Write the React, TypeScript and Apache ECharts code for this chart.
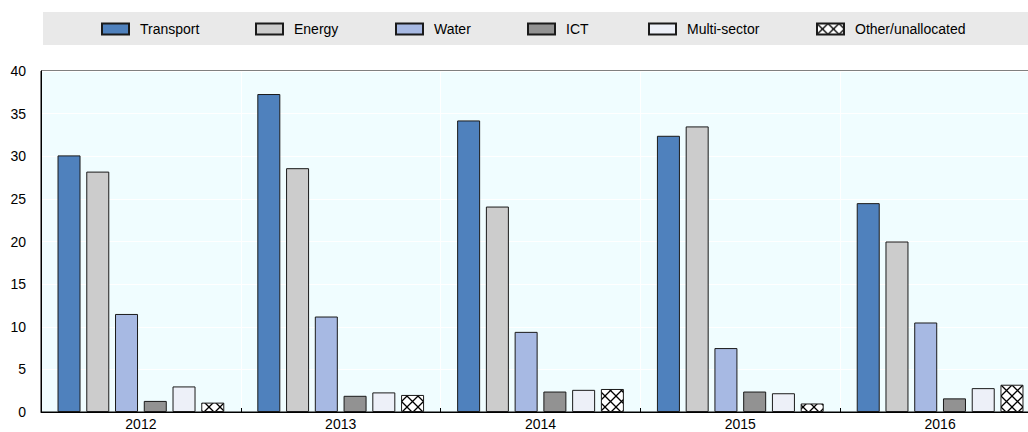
import React, { useEffect, useRef } from "react";
import * as echarts from "echarts";

const years = ["2012", "2013", "2014", "2015", "2016"];
const seriesNames = ["Transport", "Energy", "Water", "ICT", "Multi-sector", "Other/unallocated"];
const transport = [30.1, 37.3, 34.2, 32.4, 24.5];
const energy = [28.2, 28.6, 24.1, 33.5, 20.0];
const water = [11.5, 11.2, 9.4, 7.5, 10.5];
const ict = [1.3, 1.9, 2.4, 2.4, 1.6];
const multiSector = [3.0, 2.3, 2.6, 2.2, 2.8];
const other = [1.1, 2.0, 2.7, 1.0, 3.2];
const yTicks = { min: 0, max: 40, interval: 5 };

const FONT = "'Liberation Sans', Arial, sans-serif";

function hatchImage(): string {
  const s = 11;
  const c = document.createElement("canvas");
  c.width = s;
  c.height = s;
  const ctx = c.getContext("2d")!;
  ctx.fillStyle = "#ffffff";
  ctx.fillRect(0, 0, s, s);
  ctx.strokeStyle = "#000000";
  ctx.lineWidth = 1.3;
  ctx.beginPath();
  ctx.moveTo(0, 0);
  ctx.lineTo(s, s);
  ctx.moveTo(s, 0);
  ctx.lineTo(0, s);
  ctx.stroke();
  return c.toDataURL();
}

export default function App() {
  const ref = useRef<HTMLDivElement>(null);
  useEffect(() => {
    if (!ref.current) return;
    const chart = echarts.init(ref.current, null, { renderer: "svg" });
    const hatch = { image: hatchImage(), repeat: "repeat" };
    const colors: any[] = ["#4F81BD", "#CCCCCC", "#A7B9E3", "#929292", "#EDF0F8", hatch];
    const values = [transport, energy, water, ict, multiSector, other];
    const legendLefts = [101, 255, 395, 527, 648, 816];
    chart.setOption({
      animation: false,
      graphic: [
        {
          type: "rect",
          z: -10,
          shape: { x: 43, y: 12, width: 1000, height: 33 },
          style: { fill: "#E9E9E9" },
          silent: true,
        },
      ],
      legend: seriesNames.map((n, i) => ({
        data: [n],
        left: legendLefts[i],
        top: 22,
        padding: 0,
        itemWidth: 27,
        itemHeight: 11,
        icon: "rect",
        selectedMode: false,
        textStyle: {
          fontFamily: FONT,
          fontSize: 14,
          color: "#000",
          padding: [0, 0, 0, 6],
          lineHeight: 12,
        },
      })),
      grid: {
        left: 41,
        right: 0,
        top: 71,
        bottom: 20,
        show: true,
        backgroundColor: "#F0FDFF",
        borderColor: "#000",
        borderWidth: 1,
        containLabel: false,
      },
      xAxis: {
        type: "category",
        data: years,
        axisLine: { lineStyle: { color: "#000", width: 1 } },
        axisTick: { show: true, inside: true, length: 4, lineStyle: { color: "#000" } },
        axisLabel: { fontFamily: FONT, fontSize: 14, color: "#000", margin: 5 },
        splitLine: { show: true, lineStyle: { color: "#ffffff", width: 1 } },
      },
      yAxis: {
        type: "value",
        min: yTicks.min,
        max: yTicks.max,
        interval: yTicks.interval,
        axisLine: { show: true, lineStyle: { color: "#000", width: 1 } },
        axisTick: { show: false },
        axisLabel: { fontFamily: FONT, fontSize: 14, color: "#000", margin: 15 },
        splitLine: { show: true, lineStyle: { color: "#ffffff", width: 1 } },
      },
      series: seriesNames.map((n, i) => ({
        name: n,
        type: "bar",
        data: values[i],
        barWidth: 23,
        barGap: "25%",
        itemStyle: { color: colors[i], borderColor: "#1a1a1a", borderWidth: 1 },
      })),
    });
    return () => chart.dispose();
  }, []);
  return (
    <div style={{ width: 1028, height: 432, position: "absolute", left: 0, top: 0, overflow: "hidden" }}>
      <div ref={ref} style={{ width: 1040, height: 432 }} />
    </div>
  );
}
